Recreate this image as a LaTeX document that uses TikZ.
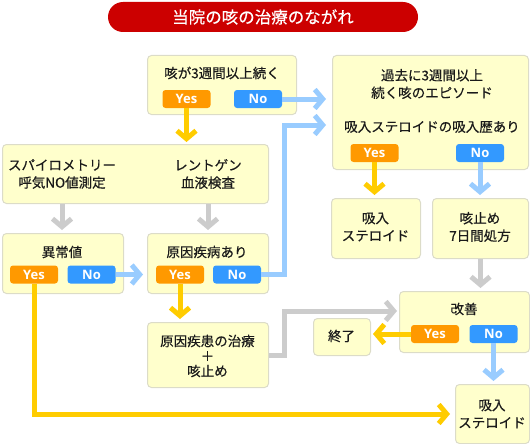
\documentclass[tikz,border=0pt]{standalone}
\usepackage{fontspec}
\setmainfont{Noto Sans CJK JP}[FakeBold=0.4]
\newfontfamily\btnfont{Open Sans}
\usetikzlibrary{arrows.meta}
\definecolor{boxfill}{HTML}{FFFFCC}
\definecolor{boxline}{HTML}{DCDCC8}
\definecolor{yesc}{HTML}{FF9900}
\definecolor{noc}{HTML}{3399FF}
\definecolor{ya}{HTML}{FFCC00}
\definecolor{ba}{HTML}{99CCFF}
\definecolor{ga}{HTML}{CCCCCC}
\definecolor{titlered}{HTML}{CC0000}
\definecolor{txt}{HTML}{1A1A1A}
\tikzset{
  chev/.tip={Straight Barb[length=8pt,width=19pt,line width=5pt]},
  box/.style={draw=boxline, line width=1pt, fill=boxfill, rounded corners=4pt, inner sep=0pt},
  btn/.style={rounded corners=3pt, inner sep=0pt, text=white, font=\btnfont\bfseries\fontsize{13}{14}\selectfont, minimum width=48pt, minimum height=18pt},
  yesbtn/.style={btn, fill=yesc},
  nobtn/.style={btn, fill=noc},
  lbl/.style={text=txt, align=center, font=\fontsize{13.5}{17.5}\selectfont, inner sep=0pt},
  conn/.style={line width=5pt, -chev},
  yarr/.style={conn, draw=ya},
  barr/.style={conn, draw=ba},
  garr/.style={conn, draw=ga},
}
\newcommand{\mybox}[5]{\node[box, anchor=north west, minimum width=#4-#2, minimum height=#5-#3] (#1) at (#2,#3) {};}
\begin{document}
\begin{tikzpicture}[x=1pt,y=-1pt]
\useasboundingbox (0,0) rectangle (530,444);
% title
\node[fill=titlered, rounded corners=15pt, minimum width=310pt, minimum height=30pt, inner sep=0pt,
      text=white, font=\fontsize{16.5}{18}\selectfont] (title) at (263,17) {当院の咳の治療のながれ};
% boxes
\mybox{b1}{147}{55}{296}{114}
\mybox{b2}{2}{144}{268}{203}
\mybox{b3}{2}{233}{123}{293}
\mybox{b4}{147}{233}{268}{293}
\mybox{b5}{332}{55}{528}{169}
\mybox{b6}{331}{198}{420}{258}
\mybox{b7}{432}{198}{528}{258}
\mybox{b8}{399}{291}{529}{352}
\mybox{b9}{313}{318}{370}{355}
\mybox{b10}{147}{322}{268}{387}
\mybox{b11}{455}{384}{529}{443}
% texts
\node[lbl] (t1) at (222,73) {咳が3週間以上続く};
\node[lbl] (t2a) at (62,174) {スパイロメトリー\\呼気NO値測定};
\node[lbl] (t2b) at (208,174) {レントゲン\\血液検査};
\node[lbl] (t3) at (62,252) {異常値};
\node[lbl] (t4) at (207,252) {原因疾病あり};
\node[lbl] (t5a) at (432,84) {過去に3週間以上\\続く咳のエピソード};
\node[lbl] (t5b) at (432,127) {吸入ステロイドの吸入歴あり};
\node[lbl] (t6) at (375.5,227) {吸入\\ステロイド};
\node[lbl] (t7) at (480,227) {咳止め\\7日間処方};
\node[lbl] (t8) at (464,309) {改善};
\node[lbl] (t9) at (341.5,336) {終了};
\node[lbl, font=\fontsize{13.5}{15}\selectfont] (t10) at (207.5,356) {原因疾患の治療\\＋\\咳止め};
\node[lbl] (t11) at (492,414) {吸入\\ステロイド};
% buttons
\node[yesbtn] (y1) at (186.5,99) {Yes};
\node[nobtn]  (n1) at (258,99) {No};
\node[yesbtn] (y3) at (34,274.5) {Yes};
\node[nobtn]  (n3) at (91.5,274.5) {No};
\node[yesbtn] (y4) at (180,274.5) {Yes};
\node[nobtn]  (n4) at (237,274.5) {No};
\node[yesbtn] (y5) at (374.5,153) {Yes};
\node[nobtn]  (n5) at (480,153) {No};
\node[yesbtn] (y8) at (435,334) {Yes};
\node[nobtn]  (n8) at (493.5,334) {No};
% coordinates
\coordinate (c4) at (284,125);
\coordinate (c12) at (284,311);
% connectors
\draw[yarr, shorten >=2pt] (y1.south) -- (y1.south |- b2.north);
\draw[barr, shorten >=6pt] (n1.east) -- (b5.west |- n1.east);
\draw[barr, shorten >=6pt] (n4.east) -| (c4) -- (b5.west |- c4);
\draw[garr, shorten >=3pt] (b2.south -| t2a) -- (b3.north -| t2a);
\draw[garr, shorten >=3pt] (b2.south -| b4.north) -- (b4.north);
\draw[barr, shorten >=4pt] (n3.east) -- (b4.west |- n3.east);
\draw[yarr, shorten >=3pt] (y4.south) -- (y4.south |- b10.north);
\draw[yarr, shorten >=5pt] (y3.south) |- (b11.west);
\draw[yarr, shorten >=3pt] (y5.south) -- (y5.south |- b6.north);
\draw[barr, shorten >=3pt] (n5.south) -- (n5.south |- b7.north);
\draw[garr, shorten >=3pt] (b7.south) -- (b7.south |- b8.north);
\draw[garr, shorten >=2pt] (b10.east) -| (c12) -- (b8.west |- c12);
\draw[yarr, shorten >=2pt] (y8.west) -- (b9.east |- y8.west);
\draw[barr, shorten >=3pt] (n8.south) -- (n8.south |- b11.north);
\end{tikzpicture}
\end{document}
